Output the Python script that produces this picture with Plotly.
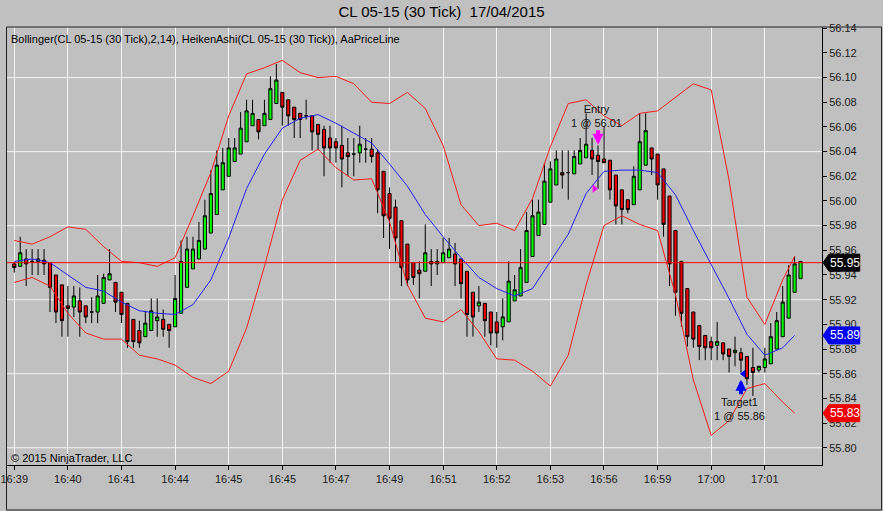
import plotly.graph_objects as go

# x axis labels, one every 9 bars
time_labels = ["16:39", "16:40", "16:41", "16:44", "16:45", "16:45", "16:47", "16:49",
               "16:51", "16:52", "16:53", "16:56", "16:59", "17:00", "17:01"]
label_every = 9

# Heiken Ashi bars (CL 05-15, 30 tick)
ha_open = [
    55.949, 55.947, 55.953, 55.951, 55.951, 55.952, 55.950, 55.940, 55.932, 55.915,
    55.914, 55.919, 55.915, 55.910, 55.910, 55.917, 55.936, 55.934, 55.926, 55.917,
    55.904, 55.895, 55.890, 55.895, 55.903, 55.904, 55.900, 55.898, 55.909, 55.930,
    55.945, 55.953, 55.961, 55.974, 55.989, 56.009, 56.020, 56.032, 56.038, 56.048,
    56.061, 56.066, 56.061, 56.066, 56.079, 56.088, 56.082, 56.076, 56.071, 56.069,
    56.069, 56.062, 56.058, 56.051, 56.048, 56.045, 56.039, 56.038, 56.039, 56.042,
    56.042, 56.039, 56.024, 56.006, 55.995, 55.984, 55.965, 55.950, 55.944, 55.943,
    55.951, 55.949, 55.950, 55.954, 55.957, 55.953, 55.943, 55.926, 55.915, 55.917,
    55.910, 55.902, 55.898, 55.902, 55.919, 55.923, 55.934, 55.955, 55.972, 55.981,
    55.999, 56.013, 56.023, 56.023, 56.022, 56.030, 56.035, 56.041, 56.037, 56.034,
    56.033, 56.021, 56.009, 56.001, 55.997, 56.009, 56.029, 56.043, 56.038, 56.026,
    56.004, 55.976, 55.951, 55.929, 55.910, 55.899, 55.891, 55.886, 55.883, 55.885,
    55.880, 55.877, 55.877, 55.874, 55.865, 55.863, 55.865, 55.868, 55.880, 55.890,
    55.905, 55.926, 55.937,
]
ha_high = [
    55.950, 55.971, 55.961, 55.961, 55.961, 55.961, 55.950, 55.940, 55.932, 55.931,
    55.931, 55.930, 55.915, 55.922, 55.940, 55.941, 55.961, 55.934, 55.926, 55.917,
    55.904, 55.903, 55.911, 55.921, 55.921, 55.912, 55.900, 55.940, 55.968, 55.971,
    55.971, 55.983, 56.001, 56.025, 56.041, 56.043, 56.051, 56.051, 56.072, 56.082,
    56.082, 56.066, 56.082, 56.101, 56.111, 56.088, 56.082, 56.076, 56.071, 56.082,
    56.069, 56.062, 56.061, 56.061, 56.051, 56.061, 56.051, 56.051, 56.061, 56.051,
    56.051, 56.042, 56.024, 56.011, 56.001, 55.984, 55.965, 55.950, 55.951, 55.981,
    55.961, 55.961, 55.970, 55.970, 55.966, 55.953, 55.943, 55.926, 55.931, 55.917,
    55.910, 55.910, 55.921, 55.951, 55.940, 55.961, 55.991, 56.001, 56.001, 56.031,
    56.032, 56.041, 56.041, 56.041, 56.041, 56.051, 56.071, 56.051, 56.045, 56.061,
    56.033, 56.021, 56.009, 56.001, 56.028, 56.071, 56.071, 56.043, 56.038, 56.026,
    56.004, 55.976, 55.951, 55.929, 55.910, 55.899, 55.891, 55.890, 55.902, 55.885,
    55.880, 55.890, 55.881, 55.874, 55.881, 55.866, 55.881, 55.901, 55.910, 55.931,
    55.948, 55.955, 55.951,
]
ha_low = [
    55.942, 55.947, 55.931, 55.940, 55.940, 55.940, 55.910, 55.901, 55.890, 55.890,
    55.906, 55.890, 55.901, 55.901, 55.901, 55.917, 55.936, 55.910, 55.901, 55.881,
    55.881, 55.881, 55.890, 55.895, 55.890, 55.890, 55.881, 55.898, 55.909, 55.930,
    55.945, 55.953, 55.961, 55.974, 55.989, 56.009, 56.020, 56.032, 56.038, 56.048,
    56.061, 56.050, 56.061, 56.066, 56.079, 56.061, 56.061, 56.051, 56.051, 56.066,
    56.041, 56.041, 56.020, 56.031, 56.031, 56.011, 56.020, 56.020, 56.031, 56.031,
    56.031, 55.990, 55.970, 55.961, 55.951, 55.931, 55.931, 55.932, 55.921, 55.943,
    55.931, 55.940, 55.950, 55.954, 55.931, 55.921, 55.890, 55.890, 55.910, 55.890,
    55.883, 55.881, 55.887, 55.902, 55.919, 55.923, 55.934, 55.955, 55.972, 55.981,
    55.999, 56.013, 56.010, 56.001, 56.022, 56.030, 56.035, 56.021, 56.010, 56.031,
    56.001, 55.981, 55.981, 55.990, 55.997, 56.009, 56.029, 56.021, 56.001, 55.971,
    55.931, 55.907, 55.898, 55.882, 55.881, 55.871, 55.871, 55.871, 55.871, 55.871,
    55.861, 55.866, 55.861, 55.851, 55.842, 55.861, 55.861, 55.868, 55.880, 55.890,
    55.905, 55.926, 55.937,
]
ha_close = [
    55.946, 55.958, 55.949, 55.951, 55.953, 55.949, 55.930, 55.910, 55.903, 55.913,
    55.923, 55.910, 55.906, 55.910, 55.923, 55.938, 55.941, 55.918, 55.908, 55.886,
    55.886, 55.885, 55.901, 55.911, 55.906, 55.896, 55.895, 55.921, 55.951, 55.961,
    55.961, 55.968, 55.988, 56.006, 56.029, 56.031, 56.043, 56.043, 56.059, 56.073,
    56.071, 56.056, 56.071, 56.091, 56.098, 56.076, 56.069, 56.066, 56.066, 56.069,
    56.056, 56.054, 56.043, 56.043, 56.043, 56.034, 56.036, 56.038, 56.046, 56.042,
    56.036, 56.009, 55.988, 55.986, 55.970, 55.946, 55.936, 55.938, 55.941, 55.958,
    55.949, 55.951, 55.958, 55.961, 55.949, 55.933, 55.908, 55.906, 55.918, 55.903,
    55.893, 55.893, 55.906, 55.935, 55.928, 55.946, 55.976, 55.988, 55.991, 56.016,
    56.026, 56.034, 56.021, 56.023, 56.036, 56.041, 56.046, 56.034, 56.032, 56.031,
    56.009, 55.996, 55.993, 55.993, 56.020, 56.048, 56.057, 56.034, 56.013, 55.981,
    55.949, 55.926, 55.909, 55.890, 55.888, 55.882, 55.881, 55.881, 55.886, 55.876,
    55.874, 55.879, 55.871, 55.856, 55.861, 55.866, 55.872, 55.890, 55.903, 55.918,
    55.940, 55.949, 55.951,
]

# Bollinger(2,14) read every third bar
band_bar = [0, 3, 6, 9, 12, 15, 18, 21, 24, 27, 30, 33, 36, 39, 42, 45, 48, 51, 54, 57,
            60, 63, 66, 69, 72, 75, 78, 81, 84, 87, 90, 93, 96, 99, 102, 105, 108, 111,
            114, 117, 120, 123, 126, 129, 131]
bb_upper = [55.968, 55.965, 55.971, 55.979, 55.977, 55.963, 55.951, 55.950, 55.947, 55.954,
            55.988, 56.023, 56.069, 56.103, 56.108, 56.114, 56.104, 56.100, 56.101, 56.095,
            56.080, 56.079, 56.088, 56.075, 56.045, 55.997, 55.980, 55.982, 55.976, 56.002,
            56.044, 56.079, 56.082, 56.069, 56.061, 56.071, 56.073, 56.084, 56.095, 56.090,
            56.017, 55.922, 55.900, 55.936, 55.955]
bb_middle = [55.951, 55.953, 55.950, 55.940, 55.930, 55.927, 55.918, 55.911, 55.909, 55.908,
             55.916, 55.936, 55.970, 56.010, 56.038, 56.059, 56.067, 56.070, 56.063, 56.055,
             56.047, 56.030, 56.012, 55.989, 55.971, 55.954, 55.938, 55.929, 55.923, 55.929,
             55.951, 55.973, 56.006, 56.024, 56.025, 56.025, 56.023, 56.005, 55.976, 55.949,
             55.921, 55.892, 55.875, 55.881, 55.891]
bb_lower = [55.934, 55.938, 55.931, 55.909, 55.893, 55.888, 55.888, 55.875, 55.872, 55.867,
            55.857, 55.852, 55.862, 55.897, 55.947, 56.001, 56.033, 56.042, 56.027, 56.017,
            56.018, 55.983, 55.932, 55.905, 55.902, 55.912, 55.894, 55.872, 55.871, 55.862,
            55.850, 55.875, 55.932, 55.980, 55.988, 55.981, 55.976, 55.924, 55.855, 55.810,
            55.822, 55.848, 55.852, 55.837, 55.828]

last_price = 55.95
entry_bar, entry_price = 98, 56.01
target_bar, target_price = 122, 55.86

grid_levels = [55.80, 55.86, 55.92, 55.98, 56.04, 56.10]

BG = "#C0C0C0"
FONT = "Liberation Sans, Arial, sans-serif"
y_lo, y_hi = 55.786, 56.141
plot_w, plot_h = 821, 438

bars = list(range(len(ha_open)))

fig = go.Figure()

# bands first, bars are painted on top of them
fig.add_trace(go.Scatter(x=band_bar, y=bb_upper, mode="lines",
                         line=dict(color="#F41C1C", width=1)))
fig.add_trace(go.Scatter(x=band_bar, y=bb_lower, mode="lines",
                         line=dict(color="#F41C1C", width=1)))
fig.add_trace(go.Scatter(x=band_bar, y=bb_middle, mode="lines",
                         line=dict(color="#2020F0", width=1)))

fig.add_trace(go.Candlestick(
    x=bars, open=ha_open, high=ha_high, low=ha_low, close=ha_close,
    increasing=dict(fillcolor="#00FF00", line=dict(color="black", width=1)),
    decreasing=dict(fillcolor="#EE0000", line=dict(color="black", width=1)),
    whiskerwidth=0,
))

# execution markers
fig.add_trace(go.Scatter(x=[entry_bar - 0.6], y=[entry_price], mode="markers",
                         marker=dict(symbol="triangle-right", size=7, color="#FF00FF")))
fig.add_trace(go.Scatter(x=[target_bar + 0.4], y=[target_price], mode="markers",
                         marker=dict(symbol="triangle-left", size=7, color="#0000FF")))

for lvl in grid_levels:
    fig.add_hline(y=lvl, line_color="#F4F4F4", line_width=1, layer="below")

fig.add_hline(y=last_price, line_color="#FF0000", line_width=1, layer="above")

fig.add_annotation(x=entry_bar, y=entry_price, yshift=44, ax=0, ay=-16, text="",
                   showarrow=True, arrowhead=2, arrowsize=0.55, arrowwidth=4,
                   arrowcolor="#FF00FF")
fig.add_annotation(x=entry_bar - 0.2, y=entry_price, yshift=73, showarrow=False,
                   text=f"Entry<br>1 @ {entry_price:.2f}",
                   font=dict(family=FONT, size=11, color="#111111"))
fig.add_annotation(x=target_bar, y=target_price, yshift=-6, ax=0, ay=16, text="",
                   showarrow=True, arrowhead=2, arrowsize=0.55, arrowwidth=4,
                   arrowcolor="#0000FF")
fig.add_annotation(x=target_bar - 0.2, y=target_price, yshift=-35, showarrow=False,
                   text=f"Target1<br>1 @ {target_price:.2f}",
                   font=dict(family=FONT, size=11, color="#111111"))


def price_tag(value, fill):
    # arrow shaped value box sitting on the right price axis
    yp = (value - y_lo) / (y_hi - y_lo)
    h = 8.5 / plot_h
    x_tip, x_box, x_end = 1 + 1 / plot_w, 1 + 7 / plot_w, 1 + 38 / plot_w
    path = (f"M {x_tip},{yp} L {x_box},{yp + h} L {x_end},{yp + h} "
            f"L {x_end},{yp - h} L {x_box},{yp - h} Z")
    fig.add_shape(type="path", path=path, xref="paper", yref="paper",
                  fillcolor=fill, line=dict(color=fill, width=1), layer="above")
    fig.add_annotation(x=1 + 23 / plot_w, y=yp, xref="paper", yref="paper",
                       xanchor="center", yanchor="middle",
                       text=f"{value:.2f}", showarrow=False,
                       font=dict(family=FONT, size=12, color="white"))


price_tag(last_price, "#000000")
price_tag(bb_middle[-1], "#0000F0")
price_tag(bb_lower[-1], "#F00000")

# frame round the chart panel
fig.add_shape(type="rect", xref="paper", yref="paper",
              x0=-0.5 / plot_w, x1=881 / plot_w, y0=-45 / plot_h, y1=1,
              line=dict(color="#202020", width=1), layer="above")

fig.add_annotation(x=2 / plot_w, y=1 - 12 / plot_h, xref="paper", yref="paper",
                   xanchor="left", yanchor="middle", showarrow=False,
                   text="Bollinger(CL 05-15 (30 Tick),2,14), HeikenAshi(CL 05-15 (30 Tick)), AaPriceLine",
                   font=dict(family=FONT, size=11, color="#000000"))
fig.add_annotation(x=2 / plot_w, y=7 / plot_h, xref="paper", yref="paper",
                   xanchor="left", yanchor="middle", showarrow=False,
                   text="© 2015 NinjaTrader, LLC",
                   font=dict(family=FONT, size=11, color="#000000"))

fig.update_layout(
    width=883, height=511,
    margin=dict(l=1, r=61, t=27, b=46),
    paper_bgcolor=BG, plot_bgcolor=BG,
    showlegend=False,
    boxmode="overlay", boxgap=0.25,
    title=dict(text="CL 05-15 (30 Tick)\u00a0 17/04/2015", x=0.5, xanchor="center",
               y=1 - 12 / 511, yanchor="middle", yref="container",
               font=dict(family=FONT, size=15, color="#000000")),
    xaxis=dict(
        range=[-1.22, 135.6], rangeslider=dict(visible=False),
        tickvals=[k * label_every for k in range(len(time_labels))], ticktext=time_labels,
        showgrid=True, gridcolor="#F4F4F4", gridwidth=1, zeroline=False,
        showline=True, linecolor="black", linewidth=1,
        ticks="outside", ticklen=4, tickcolor="black",
        ticklabeloverflow="allow",
        tickfont=dict(family=FONT, size=11, color="#1A1A1A"),
    ),
    yaxis=dict(
        side="right", range=[y_lo, y_hi],
        tick0=55.80, dtick=0.02, tickformat=".2f",
        showgrid=False, zeroline=False,
        showline=True, linecolor="black", linewidth=1,
        ticks="outside", ticklen=4, tickcolor="black",
        tickfont=dict(family=FONT, size=11, color="#1A1A1A"),
    ),
)

# the page body has a default 8px margin, drop it so the chart sits at 0,0
fig.write_html("out.html", config={"displayModeBar": False},
               post_script="document.body.style.margin='0px';")
